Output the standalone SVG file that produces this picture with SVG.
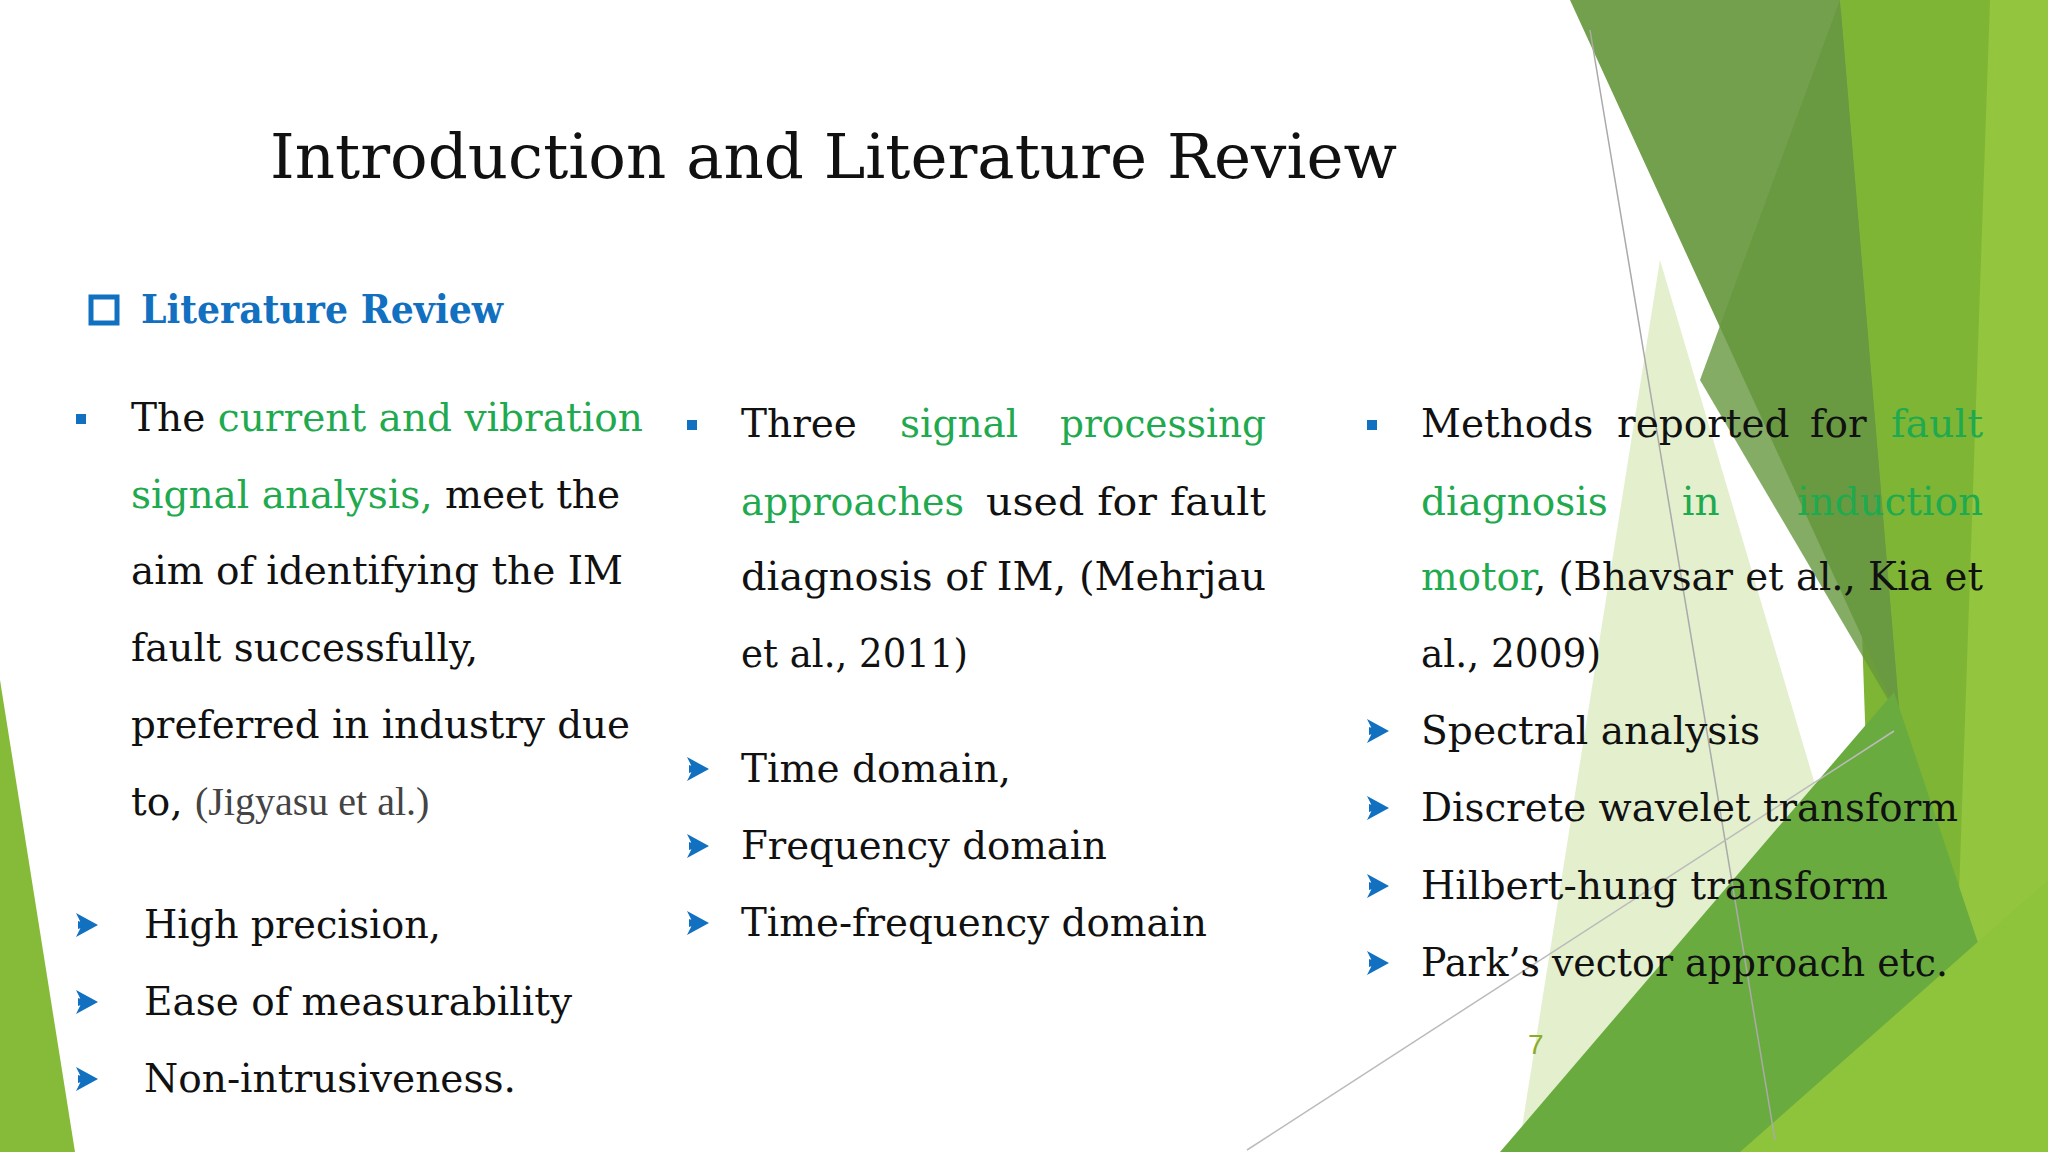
<svg xmlns="http://www.w3.org/2000/svg" width="2048" height="1152" viewBox="0 0 2048 1152">
<style>
.t{font-family:"DejaVu Serif",serif;font-size:39px;fill:#111}
.g{fill:#1faa50}
.ref{fill:#444}
.sq{fill:#1270c0}
</style>
<defs>
<path id="arw" d="M0,-12 L22,0 L0,12 L6,0 Z M2,-4 L14,0 L2,4 Z" fill="#1270c0"/>
</defs>
<rect width="2048" height="1152" fill="#fff"/>
<g id="decor">
<polygon points="0,680 75,1152 0,1152" fill="#86bb3a"/>
<polygon points="1840,0 2048,0 2048,1152 1880,1152" fill="#7fb534"/>
<polygon points="1990,0 2048,0 2048,1152 1950,1152" fill="#93c63e"/>
<polygon points="1660,260 1920,1140 1520,1140" fill="#dcebc0" opacity="0.8"/>
<polygon points="1570,0 1840,0 1900,720" fill="#73a04c"/>
<polygon points="1700,380 1840,0 1900,720" fill="#66973d" opacity="0.8"/>
<polygon points="1500,1152 1894,692 2048,1152" fill="#6aab40"/>
<polygon points="1740,1152 2048,880 2048,1152" fill="#8dc43c"/>
<line x1="1590" y1="30" x2="1775" y2="1140" stroke="#aaa" stroke-width="1.5"/>
<line x1="1247" y1="1150" x2="1894" y2="731" stroke="#bbb" stroke-width="1.5"/>
</g>
<g id="title">
<text x="270" y="178" font-family="DejaVu Serif,serif" font-size="62" fill="#111" textLength="1127" lengthAdjust="spacingAndGlyphs">Introduction and Literature Review</text>
</g>
<g id="heading">
<rect x="91" y="297" width="26" height="26" fill="none" stroke="#1270c0" stroke-width="5"/>
<text x="141" y="323" font-family="DejaVu Serif,serif" font-size="40" font-weight="bold" fill="#1270c0" textLength="362" lengthAdjust="spacingAndGlyphs">Literature Review</text>
</g>
<g id="col1">
<rect class="sq" x="76" y="414" width="10" height="10"/>
<text class="t" x="131" y="431" textLength="512" lengthAdjust="spacingAndGlyphs">The <tspan class="g">current and vibration</tspan></text>
<text class="t" x="131" y="508" textLength="489" lengthAdjust="spacingAndGlyphs"><tspan class="g">signal analysis,</tspan> meet the</text>
<text class="t" x="131" y="584" textLength="492" lengthAdjust="spacingAndGlyphs">aim of identifying the IM</text>
<text class="t" x="131" y="661" textLength="347" lengthAdjust="spacingAndGlyphs">fault successfully,</text>
<text class="t" x="131" y="738" textLength="499" lengthAdjust="spacingAndGlyphs">preferred in industry due</text>
<text class="t" x="131" y="815">to, <tspan class="ref" font-family="Liberation Serif,serif" font-size="40">(Jigyasu et al.)</tspan></text>
<use href="#arw" x="76" y="925"/>
<text class="t" x="144" y="938" textLength="297" lengthAdjust="spacingAndGlyphs">High precision,</text>
<use href="#arw" x="76" y="1002"/>
<text class="t" x="144" y="1015" textLength="428" lengthAdjust="spacingAndGlyphs">Ease of measurability</text>
<use href="#arw" x="76" y="1079"/>
<text class="t" x="144" y="1092" textLength="372" lengthAdjust="spacingAndGlyphs">Non-intrusiveness.</text>
</g>
<g id="col2">
<rect class="sq" x="687" y="420" width="10" height="10"/>
<text class="t" x="741" y="437">Three</text>
<text class="t g" x="900" y="437">signal</text>
<text class="t g" x="1060" y="437" textLength="206" lengthAdjust="spacingAndGlyphs">processing</text>
<text class="t g" x="741" y="515" textLength="223" lengthAdjust="spacingAndGlyphs">approaches</text>
<text class="t" x="986" y="515" textLength="280" lengthAdjust="spacingAndGlyphs">used for fault</text>
<text class="t" x="741" y="590" textLength="525" lengthAdjust="spacingAndGlyphs">diagnosis of IM, (Mehrjau</text>
<text class="t" x="741" y="667" textLength="227" lengthAdjust="spacingAndGlyphs">et al., 2011)</text>
<use href="#arw" x="687" y="769"/>
<text class="t" x="741" y="782" textLength="270" lengthAdjust="spacingAndGlyphs">Time domain,</text>
<use href="#arw" x="687" y="846"/>
<text class="t" x="741" y="859" textLength="366" lengthAdjust="spacingAndGlyphs">Frequency domain</text>
<use href="#arw" x="687" y="923"/>
<text class="t" x="741" y="936" textLength="466" lengthAdjust="spacingAndGlyphs">Time-frequency domain</text>
</g>
<g id="col3">
<rect class="sq" x="1367" y="420" width="10" height="10"/>
<text class="t" x="1421" y="437">Methods</text>
<text class="t" x="1617" y="437">reported</text>
<text class="t" x="1810" y="437">for</text>
<text class="t g" x="1891" y="437" textLength="92" lengthAdjust="spacingAndGlyphs">fault</text>
<text class="t g" x="1421" y="515">diagnosis</text>
<text class="t g" x="1682" y="515">in</text>
<text class="t g" x="1797" y="515" textLength="186" lengthAdjust="spacingAndGlyphs">induction</text>
<text class="t" x="1421" y="590" textLength="562" lengthAdjust="spacingAndGlyphs"><tspan class="g">motor</tspan>, (Bhavsar et al., Kia et</text>
<text class="t" x="1421" y="667" textLength="180" lengthAdjust="spacingAndGlyphs">al., 2009)</text>
<use href="#arw" x="1367" y="731"/>
<text class="t" x="1421" y="744" textLength="339" lengthAdjust="spacingAndGlyphs">Spectral analysis</text>
<use href="#arw" x="1367" y="808"/>
<text class="t" x="1421" y="821" textLength="537" lengthAdjust="spacingAndGlyphs">Discrete wavelet transform</text>
<use href="#arw" x="1367" y="886"/>
<text class="t" x="1421" y="899" textLength="467" lengthAdjust="spacingAndGlyphs">Hilbert-hung transform</text>
<use href="#arw" x="1367" y="963"/>
<text class="t" x="1421" y="976" textLength="527" lengthAdjust="spacingAndGlyphs">Park’s vector approach etc.</text>
</g>
<text x="1528" y="1054" font-family="Liberation Sans,sans-serif" font-size="28" fill="#8aac2a">7</text>
</svg>
